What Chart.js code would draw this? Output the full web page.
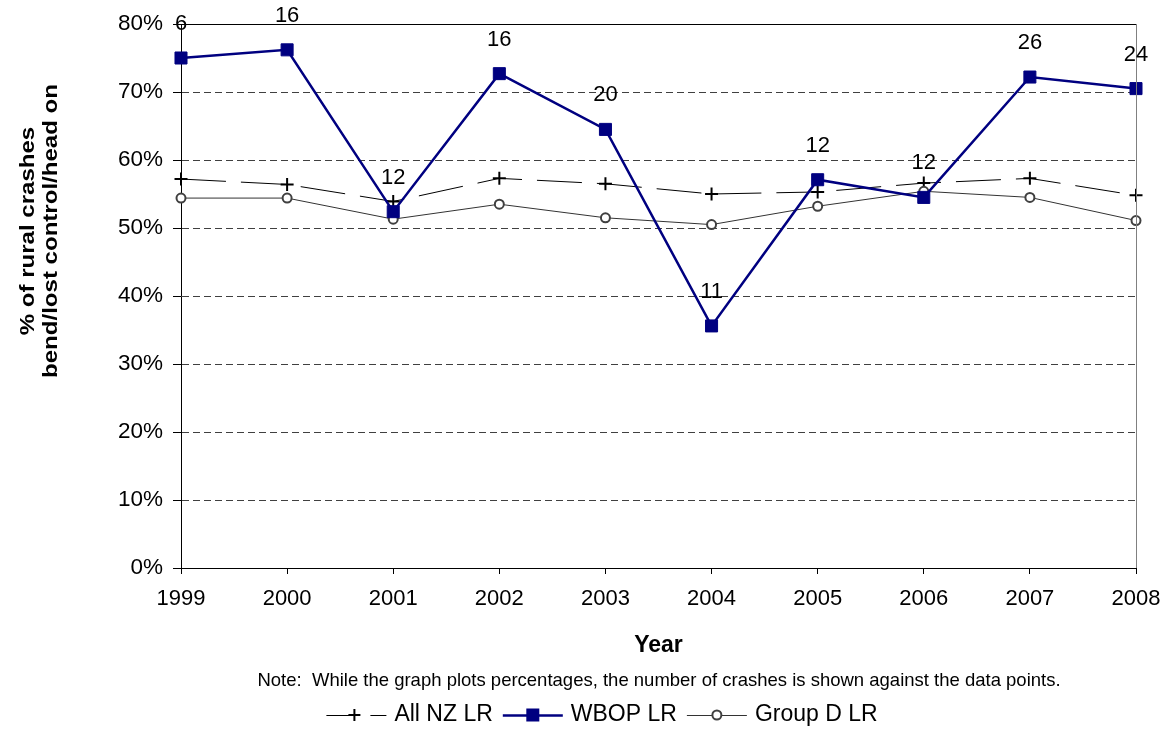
<!DOCTYPE html>
<html><head><meta charset="utf-8">
<script src="https://cdn.jsdelivr.net/npm/chart.js@4"></script>
<style>html,body{margin:0;padding:0;background:#fff}#wrap{width:1169px;height:736px}</style>
</head><body><div id="wrap"><canvas id="c" width="1169" height="736"></canvas></div>
<script>
const years = ['1999','2000','2001','2002','2003','2004','2005','2006','2007','2008'];
const allNZ = [57.2, 56.4, 53.9, 57.3, 56.5, 55.0, 55.3, 56.6, 57.3, 54.8];
const wbop = [75.0, 76.2, 52.4, 72.7, 64.5, 35.6, 57.1, 54.5, 72.2, 70.5];
const groupD = [54.4, 54.4, 51.3, 53.5, 51.5, 50.5, 53.2, 55.4, 54.5, 51.1];
const wbopCrashes = [6, 16, 12, 16, 20, 11, 12, 12, 26, 24];
const yTicks = [0, 10, 20, 30, 40, 50, 60, 70, 80];
const seriesNames = ['All NZ LR', 'WBOP LR', 'Group D LR'];
const yTitle = ['% of rural crashes', 'bend/lost control/head on'];
const xTitle = 'Year';
const note = 'Note:  While the graph plots percentages, the number of crashes is shown against the data points.';

const FONT = '"Liberation Sans", Arial, sans-serif';
Chart.defaults.font.family = FONT;
Chart.defaults.color = '#000';

function drawPlus(ctx, x, y, r) {
  ctx.save(); ctx.strokeStyle = '#000'; ctx.lineWidth = 2; ctx.setLineDash([]);
  ctx.beginPath(); ctx.moveTo(x - r, y); ctx.lineTo(x + r, y); ctx.moveTo(x, y - r); ctx.lineTo(x, y + r); ctx.stroke();
  ctx.restore();
}

const extras = {
  id: 'extras',
  afterDraw(chart) {
    const ctx = chart.ctx, a = chart.chartArea;
    // right border
    ctx.save();
    ctx.strokeStyle = '#808080'; ctx.lineWidth = 1;
    ctx.beginPath(); ctx.moveTo(Math.round(a.right) + 0.5, a.top); ctx.lineTo(Math.round(a.right) + 0.5, a.bottom); ctx.stroke();
    ctx.restore();
    // data labels
    const meta = chart.getDatasetMeta(1);
    ctx.save();
    ctx.fillStyle = '#000'; ctx.font = '22px ' + FONT; ctx.textAlign = 'center'; ctx.textBaseline = 'middle';
    meta.data.forEach((p, i) => ctx.fillText(String(wbopCrashes[i]), p.x, p.y - 34));
    ctx.restore();
    // y title
    ctx.save();
    ctx.fillStyle = '#000'; ctx.font = 'bold 21px ' + FONT; ctx.textAlign = 'center'; ctx.textBaseline = 'alphabetic';
    const cy = 231;
    [[34, yTitle[0]], [57, yTitle[1]]].forEach(([bx, t]) => {
      ctx.save(); ctx.translate(bx, cy); ctx.rotate(-Math.PI / 2); ctx.scale(1.145, 1); ctx.fillText(t, 0, 0); ctx.restore();
    });
    ctx.restore();
    // x title + note
    ctx.save();
    ctx.fillStyle = '#000'; ctx.font = 'bold 23px ' + FONT; ctx.textAlign = 'center'; ctx.textBaseline = 'middle';
    ctx.fillText(xTitle, (a.left + a.right) / 2, 646);
    ctx.font = '18.5px ' + FONT;
    ctx.fillText(note, 659, 681);
    ctx.restore();
    // legend
    ctx.save();
    ctx.font = '23px ' + FONT; ctx.textBaseline = 'middle'; ctx.textAlign = 'left'; ctx.fillStyle = '#000';
    const symW = 60, gapS = 8, gapI = 10, ly = 715;
    const widths = seriesNames.map(n => ctx.measureText(n).width);
    const total = widths.reduce((s, w) => s + symW + gapS + w, 0) + gapI * (seriesNames.length - 1);
    let x = 602 - total / 2;
    seriesNames.forEach((n, i) => {
      const ds = chart.data.datasets[i];
      ctx.save();
      ctx.strokeStyle = ds.borderColor; ctx.lineWidth = ds.borderWidth;
      if (i === 0) ctx.setLineDash([28, 16]);
      ctx.beginPath(); ctx.moveTo(x, ly + 0.5); ctx.lineTo(x + symW, ly + 0.5); ctx.stroke();
      ctx.setLineDash([]);
      const mx = i === 0 ? x + 28 : x + symW / 2;
      if (i === 0) drawPlus(ctx, mx, ly, 6);
      else if (i === 1) { ctx.fillStyle = ds.borderColor; ctx.fillRect(mx - 6.5, ly - 6.5, 13, 13); }
      else { ctx.beginPath(); ctx.arc(mx, ly, 4.5, 0, Math.PI * 2); ctx.fillStyle = '#fff'; ctx.fill(); ctx.strokeStyle = '#404040'; ctx.lineWidth = 2; ctx.stroke(); }
      ctx.restore();
      ctx.fillText(n, x + symW + gapS, ly);
      x += symW + gapS + widths[i] + gapI;
    });
    ctx.restore();
  }
};

new Chart(document.getElementById('c'), {
  type: 'line',
  data: {
    labels: years,
    datasets: [
      { label: seriesNames[0], data: allNZ, borderColor: '#000', borderWidth: 1, borderDash: [45, 15],
        pointStyle: 'cross', pointRadius: 6.5, pointBorderWidth: 2, pointBorderColor: '#000', pointBackgroundColor: '#000', order: 2, tension: 0 },
      { label: seriesNames[1], data: wbop, borderColor: '#000080', borderWidth: 2.5,
        pointStyle: 'rect', pointRadius: 8.5, pointBorderWidth: 1, pointBorderColor: '#000080', pointBackgroundColor: '#000080', order: 0, tension: 0 },
      { label: seriesNames[2], data: groupD, borderColor: '#333', borderWidth: 1,
        pointStyle: 'circle', pointRadius: 4.5, pointBorderWidth: 2, pointBorderColor: '#404040', pointBackgroundColor: '#fff', order: 1, tension: 0 }
    ]
  },
  options: {
    responsive: false, animation: false, devicePixelRatio: 1,
    layout: { padding: { top: 24, right: 33, left: 0, bottom: 0 } },
    plugins: { legend: { display: false }, tooltip: { enabled: false }, title: { display: false } },
    scales: {
      x: {
        offset: false,
        grid: { display: true, drawOnChartArea: false, drawTicks: true, tickLength: 6, color: '#000', tickColor: '#000' },
        border: { display: true, color: '#000', width: 1 },
        ticks: { font: { size: 22 }, color: '#000', padding: 12, maxRotation: 0, autoSkip: false },
        afterFit: s => { s.height = 168; s.paddingRight = 0; s.paddingLeft = 0; }
      },
      y: {
        min: 0, max: 80,
        afterBuildTicks: s => { s.ticks = yTicks.map(v => ({ value: v })); },
        grid: {
          drawTicks: true, tickLength: 8, lineWidth: 1, tickColor: '#000', tickBorderDash: [],
          color: c => (c.tick && c.tick.value === 80) ? '#000' : (c.tick && c.tick.value === 0 ? 'rgba(0,0,0,0)' : '#404040')
        },
        border: { display: true, color: '#000', width: 1, dash: c => (c.tick && c.tick.value === 80) ? [] : [7, 4] },
        ticks: { font: { size: 22.5 }, color: '#000', padding: 10, callback: v => v + '%' },
        afterFit: s => { s.width = 181; }
      }
    }
  },
  plugins: [extras]
});
</script>
</body></html>
